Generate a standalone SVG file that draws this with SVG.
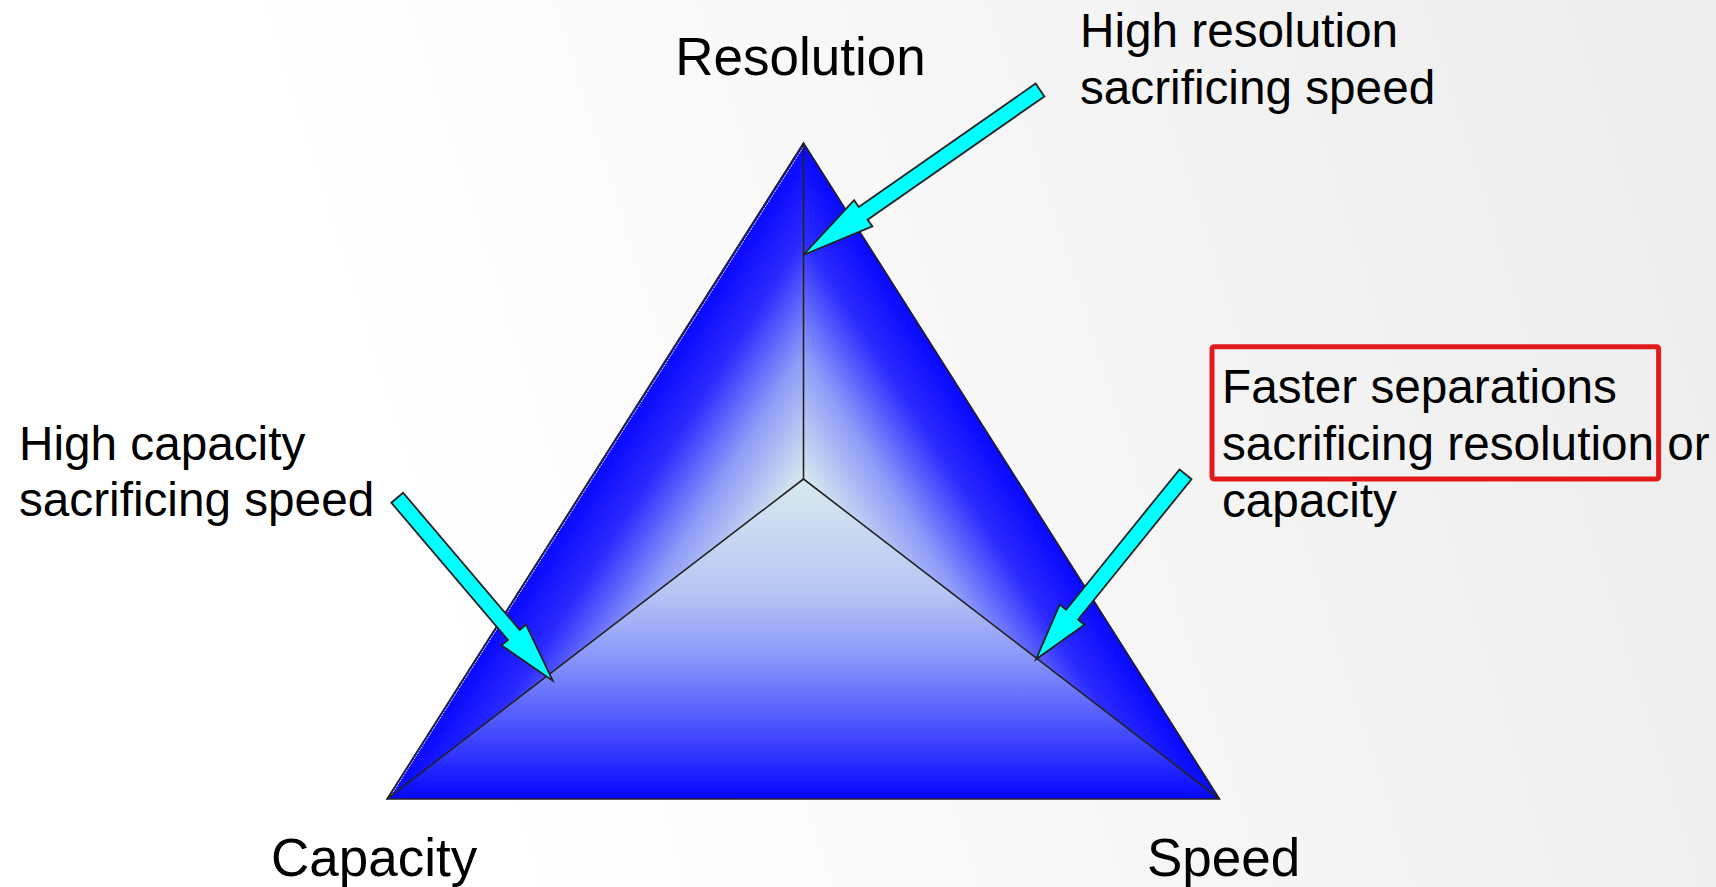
<svg xmlns="http://www.w3.org/2000/svg" width="1716" height="887" viewBox="0 0 1716 887">
  <defs>
    <linearGradient id="bg" gradientUnits="userSpaceOnUse" x1="450" y1="700" x2="1716" y2="300">
      <stop offset="0" stop-color="#ffffff"/>
      <stop offset="1" stop-color="#ededed"/>
    </linearGradient>
    <linearGradient id="gBottom" gradientUnits="userSpaceOnUse" x1="803.5" y1="479" x2="803.5" y2="799">
      <stop offset="0" stop-color="#d8eaee"/>
      <stop offset="0.35" stop-color="#b8c6f4"/>
      <stop offset="0.56" stop-color="#8a96fa"/>
      <stop offset="0.83" stop-color="#3a40ff"/>
      <stop offset="1" stop-color="#0505ff"/>
    </linearGradient>
    <linearGradient id="gLeft" gradientUnits="userSpaceOnUse" x1="651.6" y1="382.5" x2="803.5" y2="479">
      <stop offset="0" stop-color="#0808ff"/>
      <stop offset="0.28" stop-color="#2a2aff"/>
      <stop offset="0.62" stop-color="#8e9af8"/>
      <stop offset="1" stop-color="#d8eaee"/>
    </linearGradient>
    <linearGradient id="gRight" gradientUnits="userSpaceOnUse" x1="955.4" y1="382.5" x2="803.5" y2="479">
      <stop offset="0" stop-color="#0808ff"/>
      <stop offset="0.28" stop-color="#2a2aff"/>
      <stop offset="0.62" stop-color="#8e9af8"/>
      <stop offset="1" stop-color="#d8eaee"/>
    </linearGradient>
    <style>
      .lbl { font-family: "Liberation Sans", Arial, sans-serif; fill: #000000; }
      .big { font-size: 53px; }
      .note { font-size: 47.7px; }
      .edge { fill: none; stroke: #222222; stroke-width: 1.6; stroke-linejoin: miter; }
      .arrow { fill: #00ffff; stroke: #222222; stroke-width: 1.8; stroke-linejoin: miter; }
    </style>
  </defs>

  <rect id="background" x="0" y="0" width="1716" height="887" fill="url(#bg)"/>

  <g id="triangle">
    <polygon points="803.5,143 387,799 803.5,479" fill="url(#gLeft)"/>
    <polygon points="803.5,143 1219.5,799 803.5,479" fill="url(#gRight)"/>
    <polygon points="387,799 1219.5,799 803.5,479" fill="url(#gBottom)"/>
    <line x1="390" y1="797" x2="804" y2="146" stroke="#dde0f0" stroke-width="1" stroke-dasharray="2 1"/>
    <polygon class="edge" points="803.5,143 1219.5,799 387,799"/>
    <line class="edge" x1="803.5" y1="143" x2="803.5" y2="479"/>
    <line class="edge" x1="803.5" y1="479" x2="387" y2="799"/>
    <line class="edge" x1="803.5" y1="479" x2="1219.5" y2="799"/>
  </g>

  <g id="label-resolution">
    <text class="lbl big" x="800.5" y="75" text-anchor="middle">Resolution</text>
  </g>
  <g id="label-capacity">
    <text class="lbl big" x="271" y="876">Capacity</text>
  </g>
  <g id="label-speed">
    <text class="lbl big" x="1147" y="876">Speed</text>
  </g>

  <g id="note-high-resolution">
    <text class="lbl note" x="1080" y="47">High resolution</text>
    <text class="lbl note" x="1080" y="104">sacrificing speed</text>
  </g>
  <g id="note-high-capacity">
    <text class="lbl note" x="19" y="460">High capacity</text>
    <text class="lbl note" x="19" y="516">sacrificing speed</text>
  </g>
  <g id="note-faster">
    <rect x="1212" y="346.7" width="446.6" height="132.3" rx="2" fill="none" stroke="#e31a1c" stroke-width="5"/>
    <text class="lbl note" x="1222" y="403">Faster separations</text>
    <text class="lbl note" x="1222" y="459.5">sacrificing resolution or</text>
    <text class="lbl note" x="1222" y="517">capacity</text>
  </g>

  <g id="connectors">
    <polygon class="arrow" points="1044.4,96.4 867.6,219.7 872.4,226.4 803.3,255 854.1,200.2 858.8,206.9 1035.6,83.6"/>
    <polygon class="arrow" points="1191.5,479.2 1078.1,619.5 1084.5,624.7 1036,659.3 1059.7,604.6 1066.1,609.7 1179.5,469.4"/>
    <polygon class="arrow" points="391.3,502.7 507.9,640 501.6,645.4 552.7,680.7 526,624.6 519.7,630 403.1,492.7"/>
  </g>
</svg>
